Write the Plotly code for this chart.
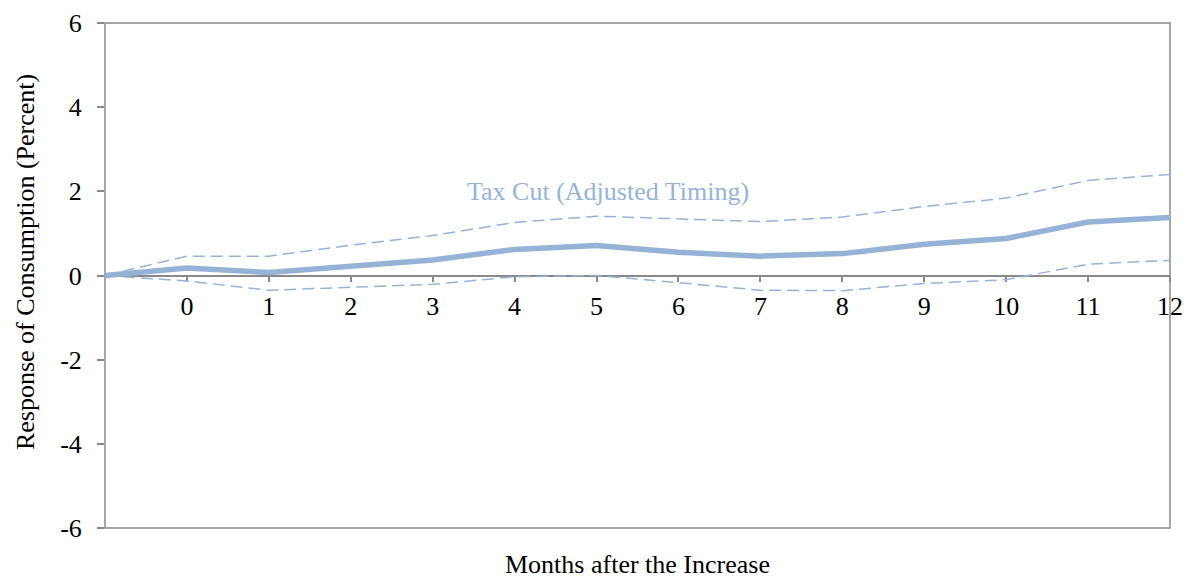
import plotly.graph_objects as go

# Impulse response of consumption to the tax change, with confidence bands
months = [-1, 0, 1, 2, 3, 4, 5, 6, 7, 8, 9, 10, 11, 12]
response = [0, 0.18, 0.07, 0.23, 0.37, 0.62, 0.71, 0.55, 0.46, 0.52, 0.74, 0.88, 1.27, 1.38]
upper_band = [0, 0.46, 0.46, 0.72, 0.95, 1.26, 1.41, 1.34, 1.28, 1.39, 1.64, 1.84, 2.26, 2.40]
lower_band = [0, -0.13, -0.35, -0.28, -0.21, -0.03, 0.0, -0.17, -0.35, -0.36, -0.19, -0.10, 0.27, 0.36]

x_tick_values = [0, 1, 2, 3, 4, 5, 6, 7, 8, 9, 10, 11, 12]
y_tick_values = [-6, -4, -2, 0, 2, 4, 6]

series_label = "Tax Cut (Adjusted Timing)"
x_title = "Months after the Increase"
y_title = "Response of Consumption (Percent)"

LINE_COLOR = "#95B3D7"
AXIS_COLOR = "#898989"
FONT = "Liberation Serif, Times New Roman, serif"
FONT_SIZE = 26

fig = go.Figure()

for band in (upper_band, lower_band):
    fig.add_trace(go.Scatter(
        x=months, y=band, mode="lines",
        line=dict(color=LINE_COLOR, width=1.5, dash="12px,6px"),
        showlegend=False, hoverinfo="skip",
    ))

fig.add_trace(go.Scatter(
    x=months, y=response, mode="lines",
    line=dict(color=LINE_COLOR, width=5.5),
    showlegend=False,
))

fig.update_layout(
    width=1185, height=578,
    margin=dict(l=105, r=15, t=23, b=50, autoexpand=False),
    paper_bgcolor="white", plot_bgcolor="white",
    font=dict(family=FONT, size=FONT_SIZE, color="black"),
    xaxis=dict(
        range=[-1, 12], anchor="free", position=0.5, automargin=False,
        showline=True, linecolor=AXIS_COLOR, linewidth=1.5,
        ticks="outside", ticklen=6, tickwidth=1.5, tickcolor=AXIS_COLOR,
        tickvals=x_tick_values, ticktext=[str(v) for v in x_tick_values],
        tickfont=dict(family=FONT, size=FONT_SIZE, color="black"),
        showgrid=False, zeroline=False, layer="below traces",
        ticklabelstandoff=2,
    ),
    yaxis=dict(
        range=[-6, 6], showline=False, automargin=False,
        ticks="outside", ticklen=7, tickwidth=1.5, tickcolor=AXIS_COLOR,
        tickvals=y_tick_values, ticktext=[str(v) for v in y_tick_values],
        tickfont=dict(family=FONT, size=FONT_SIZE, color="black"),
        showgrid=False, zeroline=False, ticklabelstandoff=10,
    ),
    shapes=[dict(
        type="rect", xref="paper", yref="paper", x0=0, x1=1, y0=0, y1=1,
        line=dict(color=AXIS_COLOR, width=1.5), layer="below",
    )],
    annotations=[
        dict(text=series_label, x=5.14, y=2.0, xref="x", yref="y",
             showarrow=False, font=dict(family=FONT, size=FONT_SIZE, color=LINE_COLOR),
             xanchor="center", yanchor="middle"),
        dict(text=x_title, x=0.5, y=-0.072, xref="paper", yref="paper",
             showarrow=False, font=dict(family=FONT, size=FONT_SIZE, color="black"),
             xanchor="center", yanchor="middle"),
        dict(text=y_title, x=-0.074, y=0.527, xref="paper", yref="paper",
             showarrow=False, textangle=-90,
             font=dict(family=FONT, size=FONT_SIZE, color="black"),
             xanchor="center", yanchor="middle"),
    ],
)

fig.write_html("out.html")
